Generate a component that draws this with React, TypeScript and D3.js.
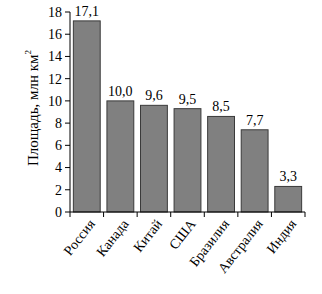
import React from "react";
import * as d3 from "d3";

const countries = ["Россия", "Канада", "Китай", "США", "Бразилия", "Австралия", "Индия"];
const barValues = [17.2, 10.0, 9.6, 9.3, 8.6, 7.4, 2.3];
const valueLabels = ["17,1", "10,0", "9,6", "9,5", "8,5", "7,7", "3,3"];
const yTicks = [0, 2, 4, 6, 8, 10, 12, 14, 16, 18];

const W = 322;
const H = 294;
const left = 70;
const right = 305;
const top = 12;
const bottom = 212;
const font = "'Liberation Serif', 'Times New Roman', serif";

export default function App() {
  const x = d3.scaleBand<string>().domain(countries).range([left, right]).paddingInner(0.2).paddingOuter(0.1);
  const y = d3.scaleLinear().domain([0, 18]).range([bottom, top]);
  const step = (right - left) / countries.length;
  const boundaries = d3.range(countries.length + 1).map((i) => left + i * step);

  return (
    <svg width={W} height={H} style={{ position: "absolute", left: 0, top: 0, background: "#fff" }} fontFamily={font}>
      <rect x={0} y={0} width={W} height={H} fill="#fff" />
      {countries.map((c, i) => (
        <rect
          key={c}
          x={x(c)}
          y={y(barValues[i])}
          width={x.bandwidth()}
          height={y(0) - y(barValues[i])}
          fill="#808080"
          stroke="#3a3a3a"
          strokeWidth={1}
        />
      ))}
      {countries.map((c, i) => (
        <text key={"l" + c} x={(x(c) as number) + x.bandwidth() / 2} y={y(barValues[i]) - 5} textAnchor="middle" fontSize={14} fill="#000">
          {valueLabels[i]}
        </text>
      ))}
      {/* y axis */}
      <line x1={left} x2={left} y1={top} y2={bottom} stroke="#000" strokeWidth={1} />
      {yTicks.map((t) => (
        <g key={"t" + t}>
          <line x1={left - 5} x2={left} y1={y(t)} y2={y(t)} stroke="#000" />
          <text x={left - 8} y={y(t)} dy="0.35em" textAnchor="end" fontSize={14} fill="#000">
            {t}
          </text>
        </g>
      ))}
      {/* x axis */}
      <line x1={left} x2={right} y1={bottom} y2={bottom} stroke="#000" />
      {boundaries.map((b, i) => (
        <line key={"b" + i} x1={b} x2={b} y1={bottom} y2={bottom + 5} stroke="#000" />
      ))}
      {countries.map((c) => {
        const cx = (x(c) as number) + x.bandwidth() / 2 + 5;
        const cy = bottom + 9;
        return (
          <text key={"x" + c} transform={`translate(${cx},${cy}) rotate(-52)`} textAnchor="end" dy="0.35em" fontSize={14} fill="#000">
            {c}
          </text>
        );
      })}
      <text transform={`translate(38,108) rotate(-90)`} textAnchor="middle" fontSize={15} fill="#000">
        Площадь, млн км<tspan dy={-7} fontSize={9}>2</tspan>
      </text>
    </svg>
  );
}
